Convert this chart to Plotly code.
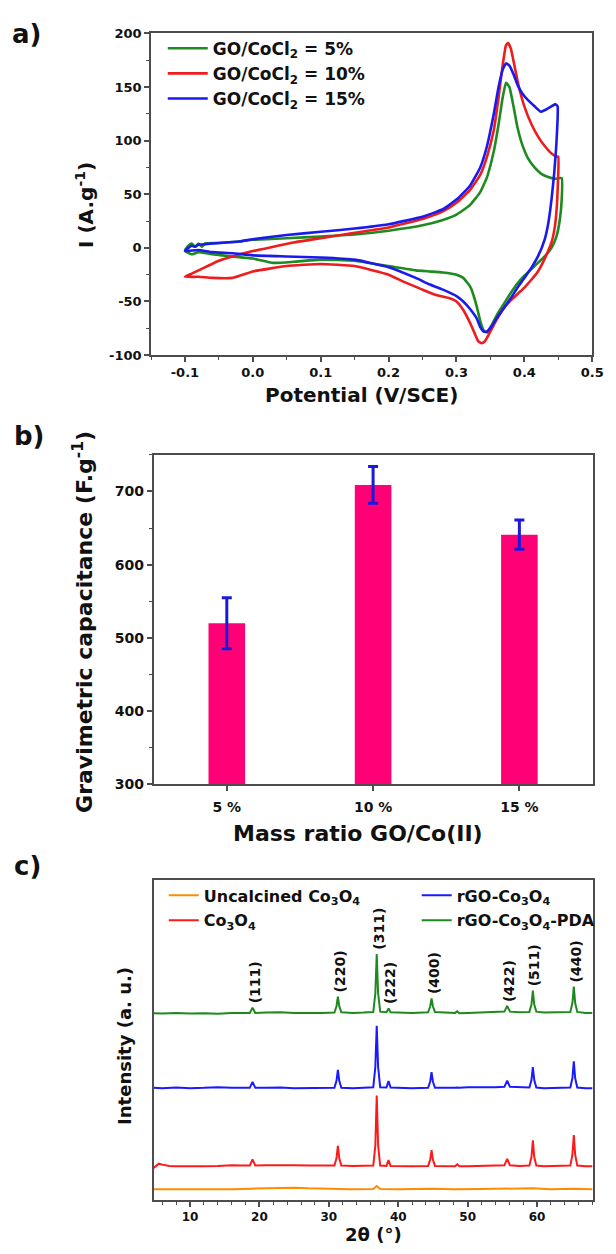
import plotly.graph_objects as go

# ---------------- (a) cyclic voltammograms ----------------
cv_labels = ["GO/CoCl<sub>2</sub> = 5%", "GO/CoCl<sub>2</sub> = 10%", "GO/CoCl<sub>2</sub> = 15%"]
cv_colors = ["#1f8a1f", "#ee1c1c", "#1a1aee"]

cv5_potential = [-0.100, -0.095, -0.090, -0.085, -0.080, -0.075, -0.070, -0.050, -0.020, 0.000,
                 0.050, 0.100, 0.150, 0.200, 0.250, 0.280, 0.300, 0.320, 0.335, 0.345,
                 0.355, 0.362, 0.368, 0.373, 0.378, 0.384, 0.390, 0.397, 0.405, 0.415,
                 0.425, 0.435, 0.445, 0.455,
                 0.455, 0.452, 0.447, 0.440, 0.430, 0.420, 0.410, 0.400, 0.390, 0.380,
                 0.370, 0.360, 0.352, 0.345, 0.340, 0.335, 0.330, 0.325, 0.320, 0.310,
                 0.300, 0.280, 0.260, 0.240, 0.200, 0.150, 0.100, 0.060, 0.030, 0.000,
                 -0.030, -0.060, -0.080, -0.090, -0.100]
cv5_current = [-2, 2, 4, 1, 4, 1, 4, 4.5, 6, 7.5,
               9, 10.5, 12.5, 16, 21, 26, 31, 40, 52, 66,
               90, 115, 140, 154, 150, 132, 112, 96, 84, 75,
               69, 66, 64.5, 65,
               45, 25, 10, 0, -8, -14, -20, -26, -33, -42,
               -52, -62, -72, -79, -77, -68, -55, -44, -36, -28,
               -25, -23, -22, -21, -17, -12, -11, -13, -14, -10,
               -8, -6, -4, -6, -3]

cv10_potential = [-0.100, -0.090, -0.070, -0.050, -0.030, 0.000, 0.030, 0.060, 0.100, 0.150,
                  0.200, 0.250, 0.280, 0.300, 0.320, 0.335, 0.345, 0.355, 0.362, 0.368,
                  0.373, 0.376, 0.380, 0.386, 0.392, 0.400, 0.410, 0.420, 0.430, 0.440,
                  0.448, 0.450,
                  0.450, 0.448, 0.445, 0.440, 0.430, 0.420, 0.410, 0.400, 0.390, 0.380,
                  0.370, 0.360, 0.350, 0.342, 0.337, 0.332, 0.327, 0.320, 0.310, 0.300,
                  0.290, 0.270, 0.250, 0.220, 0.200, 0.150, 0.100, 0.050, 0.000, -0.030,
                  -0.060, -0.080, -0.100]
cv10_current = [-27, -24, -18, -12, -8, -3, 1, 5, 9, 14,
                19, 27, 34, 42, 54, 68, 85, 110, 140, 170,
                189, 191, 186, 168, 150, 132, 116, 104, 95, 88,
                85, 85,
                70, 40, 20, 5, -10, -22, -30, -37, -43, -49,
                -56, -66, -78, -87, -89, -87, -80, -70, -58, -50,
                -47, -44, -39, -31, -25, -17, -15, -17, -22, -28,
                -28, -27, -27]

cv15_potential = [-0.100, -0.095, -0.090, -0.085, -0.080, -0.070, -0.050, -0.020, 0.000, 0.050,
                  0.100, 0.150, 0.200, 0.250, 0.280, 0.300, 0.320, 0.335, 0.345, 0.355,
                  0.362, 0.368, 0.373, 0.378, 0.384, 0.390, 0.397, 0.405, 0.415, 0.424,
                  0.432, 0.440, 0.446, 0.449,
                  0.449, 0.447, 0.444, 0.440, 0.435, 0.430, 0.420, 0.410, 0.400, 0.390,
                  0.380, 0.370, 0.360, 0.352, 0.345, 0.340, 0.335, 0.330, 0.320, 0.310,
                  0.300, 0.280, 0.260, 0.240, 0.200, 0.150, 0.100, 0.050, 0.000, -0.030,
                  -0.060, -0.080, -0.100]
cv15_current = [-3, 0, 2, 1, 3, 3.5, 4.5, 6, 8, 12,
                15, 18, 22, 29, 36, 45, 58, 75, 95, 125,
                150, 166, 172, 170, 162, 152, 144, 138, 132, 127,
                129, 132, 134, 132,
                120, 95, 70, 45, 22, 8, -8, -19, -28, -37,
                -47, -56, -65, -73, -78, -78, -74, -66, -57, -50,
                -45, -39, -34, -28, -18, -11, -9, -8, -7, -5,
                -4, -2, -3]

cv_x_ticks = [-0.1, 0.0, 0.1, 0.2, 0.3, 0.4, 0.5]
cv_x_ticktext = ["-0.1", "0.0", "0.1", "0.2", "0.3", "0.4", "0.5"]
cv_y_ticks = [-100, -50, 0, 50, 100, 150, 200]
cv_y_ticktext = ["-100", "-50", "0", "50", "100", "150", "200"]

# ---------------- (b) gravimetric capacitance ----------------
mass_ratio = ["5 %", "10 %", "15 %"]
capacitance = [520, 709, 641]
capacitance_err = [35, 25, 20]

# ---------------- (c) XRD patterns ----------------
xrd_names = ["Uncalcined Co<sub>3</sub>O<sub>4</sub>", "Co<sub>3</sub>O<sub>4</sub>",
             "rGO-Co<sub>3</sub>O<sub>4</sub>", "rGO-Co<sub>3</sub>O<sub>4</sub>-PDA"]
xrd_colors = ["#ff8c00", "#ff1a1a", "#1a1aff", "#1e8a1e"]

uncalcined_2theta = [4.75, 8, 12, 16, 19, 21, 23, 25, 27, 30, 33, 36.4, 36.9, 37.4, 40,
                     44.8, 48, 52, 55.7, 59.4, 62, 65.3, 68]
uncalcined_int = [3.3, 3.3, 3.2, 3.3, 3.5, 3.6, 3.8, 3.8, 3.6, 3.4, 3.3, 3.4, 4.3, 3.4, 3.3,
                  3.5, 3.3, 3.4, 3.5, 3.6, 3.3, 3.5, 3.3]

co3o4_2theta = [4.75, 5.5, 6, 7, 8, 10, 12, 14, 16, 17.5,
                18.6, 19.0, 19.4, 21, 23, 25, 27, 29, 30.8, 31.1,
                31.3, 31.5, 31.8, 33.5, 35, 36.4, 36.7, 36.9, 37.1, 37.4,
                38.3, 38.6, 38.9, 40, 42, 44.3, 44.6, 44.8, 45.0, 45.3,
                47, 48.2, 48.5, 48.8, 50, 52, 54, 55.3, 55.7, 56.1,
                57.5, 58.9, 59.2, 59.4, 59.6, 59.9, 61, 63, 64.8, 65.1,
                65.3, 65.5, 65.8, 67, 68]
co3o4_int = [10.0, 11.3, 11.0, 10.6, 10.5, 10.4, 10.5, 10.6, 10.8, 10.7,
             10.7, 12.6, 10.7, 10.8, 10.9, 10.8, 10.7, 10.6, 10.7, 13.0,
             16.9, 13.0, 10.7, 10.6, 10.6, 10.7, 17.0, 32.6, 17.0, 10.7,
             10.6, 12.4, 10.6, 10.5, 10.5, 10.6, 12.5, 15.5, 12.5, 10.6,
             10.5, 10.5, 11.1, 10.5, 10.5, 10.6, 10.7, 10.8, 12.8, 10.8,
             10.6, 10.7, 13.4, 18.6, 13.4, 10.7, 10.5, 10.5, 10.7, 14.1,
             20.2, 14.1, 10.7, 10.5, 10.5]

rgo_2theta = [4.75, 6, 8, 10, 12, 14, 16, 17.5, 18.6, 19.0,
              19.4, 21, 23, 25, 27, 29, 30.8, 31.1, 31.3, 31.5,
              31.8, 33.5, 35, 36.4, 36.7, 36.9, 37.1, 37.4, 38.3, 38.6,
              38.9, 40, 42, 44.3, 44.6, 44.8, 45.0, 45.3, 47, 48.2,
              48.5, 48.8, 50, 52, 54, 55.3, 55.7, 56.1, 57.5, 58.9,
              59.2, 59.4, 59.6, 59.9, 61, 63, 64.8, 65.1, 65.3, 65.5,
              65.8, 67, 68]
rgo_co3o4_int = [35.0, 34.9, 35.1, 34.9, 35.0, 35.2, 35.0, 35.0, 35.0, 36.8,
                 35.0, 35.0, 35.1, 34.9, 35.0, 35.0, 35.0, 37.2, 40.6, 37.2,
                 35.0, 34.9, 35.0, 35.2, 41.5, 54.4, 41.5, 35.2, 35.1, 37.1,
                 35.1, 35.0, 34.9, 35.0, 36.9, 39.9, 36.9, 35.0, 34.9, 35.0,
                 35.1, 35.0, 35.2, 35.1, 35.2, 35.3, 37.2, 35.3, 35.1, 35.1,
                 37.4, 41.5, 37.4, 35.1, 34.9, 35.0, 35.1, 38.0, 43.3, 38.0,
                 35.1, 34.9, 34.9]
rgo_co3o4_pda_int = [58.3, 58.2, 58.4, 58.2, 58.3, 58.1, 58.4, 58.3, 58.4, 60.0,
                     58.4, 58.5, 58.6, 58.4, 58.3, 58.4, 58.5, 60.5, 63.5, 60.5,
                     58.6, 58.4, 58.5, 58.7, 64.5, 76.8, 64.5, 58.8, 58.6, 59.8,
                     58.6, 58.5, 58.4, 58.6, 60.4, 62.9, 60.4, 58.7, 58.5, 58.4,
                     58.9, 58.3, 58.4, 58.5, 58.6, 58.8, 60.6, 58.8, 58.6, 58.7,
                     61.0, 65.4, 61.0, 58.8, 58.5, 58.5, 58.7, 61.5, 66.6, 61.5,
                     58.7, 58.4, 58.4]

hkl_labels = ["(111)", "(220)", "(311)", "(222)", "(400)", "(422)", "(511)", "(440)"]
hkl_2theta = [19.0, 31.3, 36.9, 38.6, 44.8, 55.7, 59.4, 65.3]

xrd_x_ticks = [10, 20, 30, 40, 50, 60]

# ---------------- styling ----------------
FONT = "DejaVu Sans"
INK = "#111111"
AXIS = "#4d4d4d"
W, H = 616, 1254


def px(x):
    return x / W


def py(y):
    return 1 - y / H


def bold(size, color=INK):
    return dict(family=FONT, size=size, color=color, weight="bold")


def axis_style(**kw):
    base = dict(showline=True, mirror=True, linecolor=AXIS, linewidth=1.5,
                ticks="outside", ticklen=5, tickwidth=1.5, tickcolor=AXIS,
                showgrid=False, zeroline=False, tickfont=bold(13))
    base.update(kw)
    return base


fig = go.Figure()

# (a)
for pot, cur, name, col in zip([cv5_potential, cv10_potential, cv15_potential],
                               [cv5_current, cv10_current, cv15_current],
                               cv_labels, cv_colors):
    fig.add_trace(go.Scatter(x=pot, y=cur, mode="lines", name=name,
                             line=dict(color=col, width=2.6, shape="spline", smoothing=0.4),
                             xaxis="x", yaxis="y", legend="legend", legendgroup=name))

# (b)
fig.add_trace(go.Bar(x=mass_ratio, y=capacitance, width=0.25,
                     marker=dict(color="#ff0077", line=dict(width=0)),
                     error_y=dict(type="data", array=capacitance_err, color="#1a1add",
                                  thickness=3, width=5),
                     xaxis="x2", yaxis="y2", showlegend=False))

# (c)
xrd_x = [uncalcined_2theta, co3o4_2theta, rgo_2theta, rgo_2theta]
xrd_y = [uncalcined_int, co3o4_int, rgo_co3o4_int, rgo_co3o4_pda_int]
xrd_legend = ["legend2", "legend2", "legend3", "legend3"]
for xs, ys, name, col, lg in zip(xrd_x, xrd_y, xrd_names, xrd_colors, xrd_legend):
    fig.add_trace(go.Scatter(x=xs, y=ys, mode="lines", name=name,
                             line=dict(color=col, width=2),
                             xaxis="x3", yaxis="y3", legend=lg, legendgroup=name))

# Miller indices above the rGO-Co3O4-PDA reflections
annotations = []
for lab, pos in zip(hkl_labels, hkl_2theta):
    top = rgo_co3o4_pda_int[rgo_2theta.index(pos)]
    annotations.append(dict(x=pos, y=top, xref="x3", yref="y3", text=lab, showarrow=False,
                            textangle=-90, xanchor="center", yanchor="bottom",
                            yshift=2, xshift=2, font=bold(14)))

# panel letters and axis titles
annotations += [
    dict(x=px(27), y=py(27), text="a)", font=bold(26)),
    dict(x=px(30), y=py(434), text="b)", font=bold(26)),
    dict(x=px(28), y=py(869), text="c)", font=bold(26)),
    dict(x=px(369), y=py(393), text="Potential (V/SCE)", font=bold(20)),
    dict(x=px(86), y=py(200), text="I (A.g<sup>-1</sup>)", textangle=-90, font=bold(20)),
    dict(x=px(365), y=py(836), text="Mass ratio GO/Co(II)", font=bold(22)),
    dict(x=px(84), y=py(622), text="Gravimetric capacitance (F.g<sup>-1</sup>)",
         textangle=-90, font=bold(22)),
    dict(x=px(381), y=py(1242), text="2θ (°)", font=bold(18)),
    dict(x=px(127), y=py(1052), text="Intensity (a. u.)", textangle=-90, font=bold(18)),
]
for a in annotations[len(hkl_labels):]:
    a.update(xref="paper", yref="paper", showarrow=False, xanchor="center", yanchor="middle")

fig.update_layout(
    width=W, height=H, margin=dict(l=0, r=0, t=0, b=0),
    paper_bgcolor="white", plot_bgcolor="white",
    font=dict(family=FONT, color=INK, size=13),
    showlegend=True,
    annotations=annotations,
    xaxis=axis_style(domain=[px(154), px(604)], anchor="y", range=[-0.15, 0.5],
                     tickvals=cv_x_ticks, ticktext=cv_x_ticktext,
                     minor=dict(ticks="outside", ticklen=3, tickwidth=1.2, tickcolor=AXIS,
                                dtick=0.05, tick0=0, showgrid=False)),
    yaxis=axis_style(domain=[py(352.3), py(26.7)], anchor="x", range=[-100, 200],
                     tickvals=cv_y_ticks, ticktext=cv_y_ticktext,
                     minor=dict(ticks="outside", ticklen=3, tickwidth=1.2, tickcolor=AXIS,
                                dtick=25, tick0=0, showgrid=False)),
    xaxis2=axis_style(domain=[px(156.7), px(604.3)], anchor="y2", range=[-0.5, 2.5],
                      tickfont=bold(14), ticklabelstandoff=4),
    yaxis2=axis_style(domain=[py(786.7), py(453.3)], anchor="x2", range=[300, 750],
                      dtick=100, tickfont=bold(14),
                      minor=dict(ticks="outside", ticklen=3, tickwidth=1.2, tickcolor=AXIS,
                                 dtick=50, showgrid=False)),
    xaxis3=axis_style(domain=[px(156.7), px(604.3)], anchor="y3", range=[4.75, 68],
                      tickvals=xrd_x_ticks, tickfont=bold(12),
                      minor=dict(ticks="outside", ticklen=3, tickwidth=1.2, tickcolor=AXIS,
                                 dtick=2, tick0=0, showgrid=False)),
    yaxis3=axis_style(domain=[py(1207.3), py(883.3)], anchor="x3", range=[0, 100],
                      ticks="", showticklabels=False),
    legend=dict(x=px(166), y=py(24), xanchor="left", yanchor="top",
                bgcolor="rgba(0,0,0,0)", font=bold(17), tracegroupgap=0,
                itemwidth=40),
    legend2=dict(x=px(167), y=py(882), xanchor="left", yanchor="top",
                 bgcolor="rgba(0,0,0,0)", font=bold(16), tracegroupgap=1,
                 itemwidth=30),
    legend3=dict(x=px(425), y=py(882), xanchor="left", yanchor="top",
                 bgcolor="rgba(0,0,0,0)", font=bold(16), tracegroupgap=1,
                 itemwidth=30),
)

fig.write_html("out.html")
